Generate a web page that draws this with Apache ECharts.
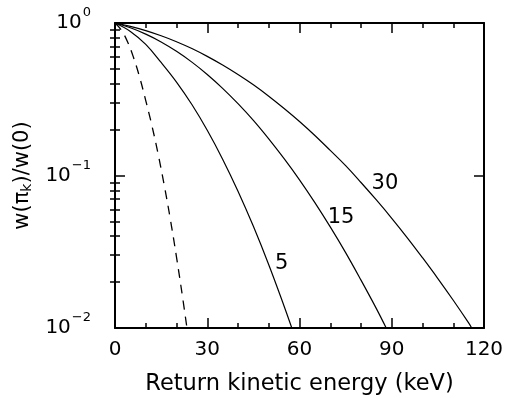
<!DOCTYPE html>
<html><head><meta charset="utf-8">
<script src="https://cdn.jsdelivr.net/npm/echarts@6/dist/echarts.min.js"></script>
<style>html,body{margin:0;padding:0;background:#fff}#c{width:505px;height:398px}</style>
</head><body><div id="c"></div>
<script>
// ---- data ----
const energyDashed = [0, 2, 4, 6, 8, 10, 12, 14, 16, 18, 20, 22, 23.4];
const ratioDashed  = [1, 0.902, 0.759, 0.596, 0.442, 0.310, 0.2125, 0.139, 0.0867, 0.0516, 0.0292, 0.0158, 0.0100];

const energy5 = [0, 5, 10, 15, 20, 25, 30, 35, 40, 45, 50, 55, 57.5];
const ratio5  = [1, 0.881, 0.724, 0.551, 0.410, 0.292, 0.198, 0.128, 0.0789, 0.0464, 0.0260, 0.0139, 0.0100];

const energy15 = [0, 5, 10, 15, 20, 25, 30, 35, 40, 45, 50, 55, 60, 65, 70, 75, 80, 85, 88.2];
const ratio15  = [1, 0.930, 0.845, 0.751, 0.652, 0.554, 0.460, 0.373, 0.296, 0.230, 0.174, 0.129, 0.0937, 0.0664, 0.0460, 0.0312, 0.0206, 0.0134, 0.0100];

const energy30 = [0, 5, 10, 15, 20, 25, 30, 35, 40, 45, 50, 55, 60, 65, 70, 75, 80, 85, 90, 95, 100, 105, 110, 115, 116];
const ratio30  = [1, 0.951, 0.892, 0.825, 0.754, 0.680, 0.604, 0.530, 0.459, 0.393, 0.331, 0.275, 0.226, 0.183, 0.146, 0.116, 0.0900, 0.0691, 0.0524, 0.0392, 0.0289, 0.0211, 0.0152, 0.0108, 0.0100];

const curveLabels = ['30', '15', '5'];
const curveLabelX = [87.8, 73.5, 54.2];
const curveLabelY = [0.0889, 0.0534, 0.0266];

const xTickValues = [0, 30, 60, 90, 120];
const yTickValues = [0.01, 0.1, 1];
const yTickExponents = ['\u22122', '\u22121', '0'];

const xName = 'Return kinetic energy (keV)';
const yNameParts = ['w(\u03c0', 'k', ')/w(0)'];

// ---- chart ----
const FONT = 'DejaVu Sans';
const zip = (xs, ys) => xs.map((x, i) => [x, ys[i]]);
// minor log tick positions (axis decoration only), in log10 space
const yMinor = [];
[-2, -1].forEach(d => { for (let k = 2; k <= 9; k++) yMinor.push(Math.log10(k) + d); });

const lineStyleAxis = { color: '#000', width: 2 };
const tickStyle = { color: '#000', width: 1.5 };

const xBase = {
  type: 'value', min: xTickValues[0], max: xTickValues[xTickValues.length - 1], interval: 30,
  axisLine: { show: true, onZero: false, lineStyle: lineStyleAxis },
  axisTick: { show: true, inside: true, length: 10, lineStyle: tickStyle },
  minorTick: { show: true, splitNumber: 3, length: 5, lineStyle: tickStyle },
  splitLine: { show: false }
};

const chart = echarts.init(document.getElementById('c'), null, { renderer: 'canvas' });
chart.setOption({
  animation: false,
  backgroundColor: '#fff',
  textStyle: { fontFamily: FONT, color: '#000' },
  grid: { left: 115, right: 21, top: 23, bottom: 70, containLabel: false, outerBoundsMode: 'none' },
  xAxis: [
    Object.assign({}, xBase, {
      position: 'bottom',
      axisLabel: { show: true, fontSize: 20, color: '#000', fontFamily: FONT, margin: 12 },
      name: xName, nameLocation: 'middle', nameGap: 45,
      nameTextStyle: { fontSize: 22.5, color: '#000', fontFamily: FONT }
    }),
    Object.assign({}, xBase, { position: 'top', axisLabel: { show: false } })
  ],
  yAxis: [
    {
      type: 'log', logBase: 10, min: yTickValues[0], max: yTickValues[yTickValues.length - 1], position: 'left',
      axisLine: { show: true, onZero: false, lineStyle: lineStyleAxis },
      axisTick: { show: true, inside: true, length: 10, lineStyle: tickStyle },
      splitLine: { show: false },
      axisLabel: {
        show: true, margin: 24, color: '#000', fontFamily: FONT,
        formatter: v => {
          const i = yTickValues.findIndex(t => Math.abs(Math.log10(t) - Math.log10(v)) < 1e-6);
          return i < 0 ? '' : '{b|10}{s|' + yTickExponents[i] + '}';
        },
        rich: {
          b: { fontSize: 20, fontFamily: FONT, color: '#000' },
          s: { fontSize: 13, fontFamily: FONT, color: '#000', padding: [0, 0, 20, 1] }
        }
      },
      name: '{n|' + yNameParts[0] + '}{k|' + yNameParts[1] + '}{n|' + yNameParts[2] + '}',
      nameLocation: 'middle', nameGap: 80,
      nameTextStyle: {
        rich: {
          n: { fontSize: 21, fontFamily: FONT, color: '#000' },
          k: { fontSize: 14, fontFamily: FONT, color: '#000', padding: [10, 0, 0, 0] }
        }
      }
    },
    {
      type: 'log', logBase: 10, min: yTickValues[0], max: yTickValues[yTickValues.length - 1], position: 'right',
      axisLine: { show: true, onZero: false, lineStyle: lineStyleAxis },
      axisTick: { show: true, inside: true, length: 10, lineStyle: tickStyle },
      splitLine: { show: false }, axisLabel: { show: false }
    },
    {
      type: 'value', min: -2, max: 0, position: 'left',
      axisLine: { show: false },
      axisTick: { show: true, inside: true, length: 5, lineStyle: tickStyle, customValues: yMinor },
      axisLabel: { show: false }, splitLine: { show: false }
    },
    {
      type: 'value', min: -2, max: 0, position: 'right',
      axisLine: { show: false },
      axisTick: { show: true, inside: true, length: 5, lineStyle: tickStyle, customValues: yMinor },
      axisLabel: { show: false }, splitLine: { show: false }
    }
  ],
  series: [
    { type: 'line', data: zip(energyDashed, ratioDashed), showSymbol: false, smooth: 0.4,
      lineStyle: { color: '#000', width: 1.3, type: [9, 7] } },
    { type: 'line', data: zip(energy5, ratio5), showSymbol: false, smooth: 0.4,
      lineStyle: { color: '#000', width: 1.2 } },
    { type: 'line', data: zip(energy15, ratio15), showSymbol: false, smooth: 0.4,
      lineStyle: { color: '#000', width: 1.2 } },
    { type: 'line', data: zip(energy30, ratio30), showSymbol: false, smooth: 0.4,
      lineStyle: { color: '#000', width: 1.2 } },
    { type: 'scatter', symbolSize: 0, itemStyle: { color: '#000', opacity: 1 },
      data: curveLabels.map((t, i) => ({ name: t, value: [curveLabelX[i], curveLabelY[i]] })),
      label: { show: true, position: 'inside', formatter: '{b}', fontSize: 21, fontFamily: FONT,
               color: '#000', textBorderWidth: 0 } }
  ]
});
</script>
</body></html>
